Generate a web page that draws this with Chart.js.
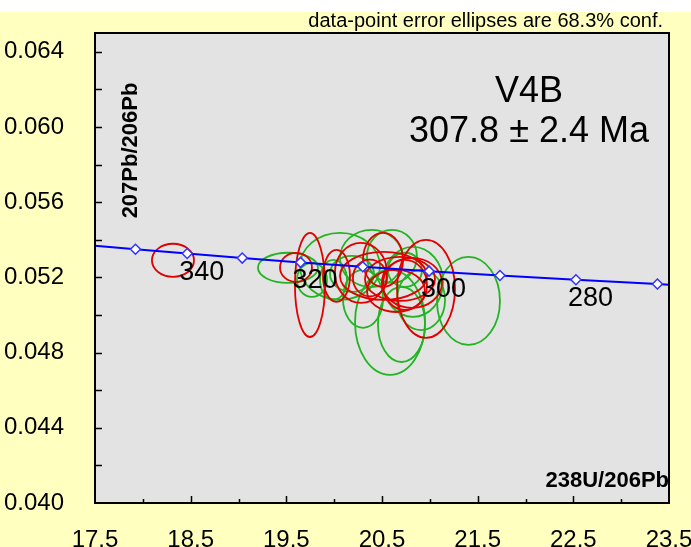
<!DOCTYPE html>
<html>
<head>
<meta charset="utf-8">
<script src="https://cdn.jsdelivr.net/npm/chart.js@4.4.1/dist/chart.umd.min.js"></script>
<style>
html, body { margin: 0; padding: 0; background: #fff; }
#wrap { width: 691px; height: 547px; }
</style>
</head>
<body>
<div id="wrap"><canvas id="chart" width="691" height="547"></canvas></div>
<script>
// concordia ticks (age in Ma) and their positions
const concAges = [350, 340, 330, 320, 310, 300, 290, 280, 270];
const concX = [17.923, 18.464, 19.039, 19.649, 20.299, 20.992, 21.733, 22.527, 23.379];
const concY = [0.053498, 0.053268, 0.053028, 0.052798, 0.052566, 0.052333, 0.052103, 0.051877, 0.051649];
const concEndX = [17.5, 23.5];
const concEndY = [0.05368, 0.051615];
const labelledAges = [340, 320, 300, 280];

// red error ellipses: centre and semi-axes
const redX = [18.315, 19.747, 19.601, 20.024, 20.280, 20.510, 20.960, 20.516, 20.646, 20.740, 20.374, 20.688, 20.813];
const redY = [0.05291, 0.05160, 0.05253, 0.05208, 0.05224, 0.05293, 0.05139, 0.05208, 0.05128, 0.05160, 0.05197, 0.05192, 0.05171];
const redErrX = [0.220, 0.157, 0.167, 0.141, 0.272, 0.209, 0.303, 0.455, 0.303, 0.230, 0.178, 0.366, 0.314];
const redErrY = [0.00088, 0.00277, 0.00077, 0.00138, 0.00160, 0.00144, 0.00261, 0.00128, 0.00112, 0.00133, 0.00098, 0.00117, 0.00133];

// green error ellipses
const greenX = [19.517, 20.061, 20.390, 20.604, 20.301, 20.584, 20.704, 20.908, 21.404, 20.824, 19.993, 20.740, 20.186, 19.768];
const greenY = [0.05251, 0.05259, 0.05301, 0.05312, 0.05086, 0.04961, 0.04950, 0.05080, 0.05075, 0.05176, 0.05187, 0.05240, 0.05219, 0.05187];
const greenErrX = [0.314, 0.418, 0.329, 0.261, 0.209, 0.366, 0.246, 0.251, 0.329, 0.314, 0.141, 0.178, 0.230, 0.157];
const greenErrY = [0.00080, 0.00178, 0.00152, 0.00141, 0.00154, 0.00279, 0.00200, 0.00160, 0.00234, 0.00186, 0.00106, 0.00091, 0.00096, 0.00091];

const sampleName = 'V4B';
const ageText = '307.8 \u00b1 2.4 Ma';
const noteText = 'data-point error ellipses are 68.3% conf.';
const xTitle = '238U/206Pb';
const yTitle = '207Pb/206Pb';

const FONT = '"Liberation Sans", Arial, sans-serif';

// concordia points, with the two plot-edge ends unmarked
const concData = [{x: concEndX[0], y: concEndY[0]}];
const concRadius = [0];
for (let i = 0; i < concX.length; i++) {
    concData.push({x: concX[i], y: concY[i]});
    concRadius.push(5);
}
concData.push({x: concEndX[1], y: concEndY[1]});
concRadius.push(0);

function drawEllipses(chart, xs, ys, ex, ey, color) {
    const ctx = chart.ctx;
    const sx = chart.scales.x, sy = chart.scales.y;
    ctx.strokeStyle = color;
    ctx.lineWidth = 1.8;
    for (let i = 0; i < xs.length; i++) {
        const cx = sx.getPixelForValue(xs[i]);
        const cy = sy.getPixelForValue(ys[i]);
        const rx = Math.abs(sx.getPixelForValue(xs[i] + ex[i]) - cx);
        const ry = Math.abs(sy.getPixelForValue(ys[i] + ey[i]) - cy);
        ctx.beginPath();
        ctx.ellipse(cx, cy, rx, ry, 0, 0, Math.PI * 2);
        ctx.stroke();
    }
}

const isoplot = {
    id: 'isoplot',
    beforeDraw(chart) {
        const ctx = chart.ctx;
        const a = chart.chartArea;
        ctx.save();
        ctx.fillStyle = '#ffffff';
        ctx.fillRect(0, 0, chart.width, chart.height);
        ctx.fillStyle = '#ffffc0';
        ctx.fillRect(0, 12, chart.width, chart.height - 12);
        ctx.fillStyle = '#e3e3e3';
        ctx.fillRect(a.left, a.top, a.right - a.left, a.bottom - a.top);
        ctx.restore();
    },
    beforeDatasetsDraw(chart) {
        const ctx = chart.ctx;
        const a = chart.chartArea;
        ctx.save();
        ctx.beginPath();
        ctx.rect(a.left, a.top, a.right - a.left, a.bottom - a.top);
        ctx.clip();
        drawEllipses(chart, greenX, greenY, greenErrX, greenErrY, '#22b422');
        drawEllipses(chart, redX, redY, redErrX, redErrY, '#e00000');
        ctx.restore();
    },
    afterDatasetsDraw(chart) {
        const ctx = chart.ctx;
        const a = chart.chartArea;
        const sx = chart.scales.x, sy = chart.scales.y;
        ctx.save();

        // age labels on the concordia
        ctx.fillStyle = '#000';
        ctx.font = '27px ' + FONT;
        ctx.textAlign = 'left';
        ctx.textBaseline = 'alphabetic';
        labelledAges.forEach(function(age) {
            const i = concAges.indexOf(age);
            const px = sx.getPixelForValue(concX[i]);
            const py = sy.getPixelForValue(concY[i]);
            ctx.fillText(String(age), px - 8, py + 26);
        });

        // inward tick marks
        ctx.strokeStyle = '#000';
        ctx.lineWidth = 1.5;
        ctx.beginPath();
        for (let v = 18.0; v < 23.5; v += 0.5) {
            const px = Math.round(sx.getPixelForValue(v)) + 0.5;
            const major = Math.abs((v - 17.5) % 1) < 1e-6;
            ctx.moveTo(px, a.bottom);
            ctx.lineTo(px, a.bottom - (major ? 7 : 4));
        }
        for (let k = 1; k <= 12; k++) {
            const py = Math.round(sy.getPixelForValue(0.040 + k * 0.002)) + 0.5;
            ctx.moveTo(a.left, py);
            ctx.lineTo(a.left + 7, py);
        }
        ctx.stroke();

        // plot frame
        ctx.lineWidth = 2;
        ctx.strokeRect(a.left, a.top, a.right - a.left, a.bottom - a.top);

        // texts
        ctx.font = '20px ' + FONT;
        ctx.textAlign = 'right';
        ctx.fillText(noteText, 663, 27);

        ctx.font = '36px ' + FONT;
        ctx.textAlign = 'center';
        ctx.fillText(sampleName, 529, 102);
        ctx.fillText(ageText, 529, 142);

        ctx.font = 'bold 22px ' + FONT;
        ctx.textAlign = 'right';
        ctx.fillText(xTitle, 669, 487);

        ctx.translate(137, 150.5);
        ctx.rotate(-Math.PI / 2);
        ctx.textAlign = 'center';
        ctx.fillText(yTitle, 0, 0);
        ctx.restore();
    }
};

new Chart(document.getElementById('chart'), {
    type: 'scatter',
    data: {
        datasets: [{
            label: 'concordia',
            data: concData,
            showLine: true,
            borderColor: '#0000ff',
            borderWidth: 2,
            pointStyle: 'rectRot',
            pointRadius: concRadius,
            pointBackgroundColor: '#ffffff',
            pointBorderColor: '#3333ff',
            pointBorderWidth: 1.5,
            clip: 0
        }]
    },
    options: {
        responsive: false,
        animation: false,
        devicePixelRatio: 1,
        layout: { padding: { top: 33, right: 22, left: 0, bottom: 0 } },
        plugins: { legend: { display: false }, tooltip: { enabled: false } },
        scales: {
            x: {
                type: 'linear',
                min: 17.5,
                max: 23.5,
                grid: { display: false },
                border: { display: false },
                ticks: {
                    stepSize: 0.5,
                    padding: 15,
                    color: '#000',
                    font: { family: FONT, size: 24 },
                    maxRotation: 0,
                    autoSkip: false,
                    callback: function(v) {
                        return Math.abs((v - 17.5) % 1) < 1e-6 ? v.toFixed(1) : '';
                    }
                },
                afterFit: function(scale) {
                    scale.height = 44;
                    scale.paddingLeft = 0;
                    scale.paddingRight = 0;
                }
            },
            y: {
                type: 'linear',
                min: 0.040,
                max: 0.065,
                grid: { display: false },
                border: { display: false },
                ticks: {
                    stepSize: 0.002,
                    includeBounds: false,
                    padding: 23,
                    color: '#000',
                    font: { family: FONT, size: 24 },
                    autoSkip: false,
                    callback: function(v) {
                        const r = v / 0.004;
                        return Math.abs(r - Math.round(r)) < 1e-6 ? v.toFixed(3) : '';
                    }
                },
                afterFit: function(scale) {
                    scale.width = 95;
                    scale.paddingTop = 0;
                    scale.paddingBottom = 0;
                }
            }
        }
    },
    plugins: [isoplot]
});
</script>
</body>
</html>
